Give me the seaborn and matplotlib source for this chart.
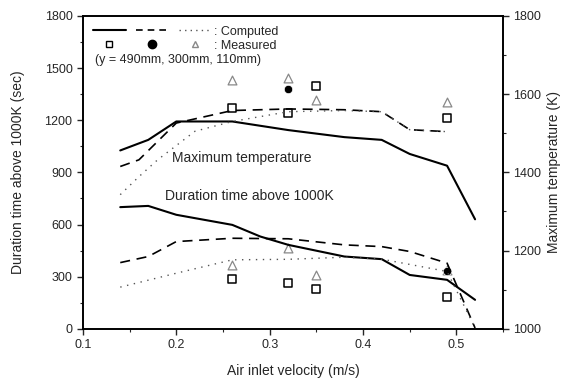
import pandas as pd
import seaborn as sns
import matplotlib.pyplot as plt
from matplotlib.lines import Line2D
from matplotlib.legend_handler import HandlerTuple
from matplotlib.ticker import MultipleLocator

sns.set_style("ticks")
plt.rcParams['font.family'] = ['Liberation Sans', 'DejaVu Sans']

# Maximum temperature (K), computed
temp_x_490 = [0.14, 0.17, 0.20, 0.26, 0.32, 0.38, 0.42, 0.45, 0.49, 0.52]
temp_490 = [1456, 1483, 1530, 1530, 1508, 1490, 1483, 1447, 1417, 1280]
temp_x_300 = [0.14, 0.16, 0.20, 0.26, 0.32, 0.38, 0.42, 0.45, 0.49]
temp_300 = [1415, 1432, 1526, 1558, 1562, 1560, 1555, 1509, 1504]
temp_x_110 = [0.14, 0.16, 0.18, 0.22, 0.26, 0.32, 0.38, 0.42, 0.45, 0.49]
temp_110 = [1343, 1389, 1432, 1505, 1530, 1555, 1558, 1555, 1509, 1504]

# Duration time above 1000K (sec), computed
dur_x_490 = [0.14, 0.17, 0.20, 0.26, 0.29, 0.32, 0.38, 0.42, 0.45, 0.49, 0.52]
dur_490 = [700, 707, 656, 598, 531, 483, 416, 401, 310, 282, 167]
dur_x_300 = [0.14, 0.17, 0.20, 0.26, 0.32, 0.38, 0.42, 0.45, 0.49, 0.52]
dur_300 = [381, 416, 502, 521, 518, 483, 473, 445, 378, 5]
dur_x_110 = [0.14, 0.20, 0.26, 0.32, 0.38, 0.42, 0.49, 0.52]
dur_110 = [240, 320, 397, 400, 412, 401, 330, 5]

# Measured
meas_x = [0.26, 0.32, 0.35, 0.49]
temp_sq = [1564, 1551, 1621, 1539]
temp_tri = [1636, 1640, 1585, 1581]
temp_circ_x = [0.32]
temp_circ = [1612]
dur_sq = [288, 263, 230, 182]
dur_tri = [368, 464, 311, 339]
dur_circ_x = [0.49]
dur_circ = [330]

fig = plt.figure(figsize=(5.64, 3.86), dpi=100)
ax = fig.add_axes([0.147, 0.148, 0.745, 0.811])
ax2 = ax.twinx()

# duration on left axis
sns.lineplot(x=dur_x_490, y=dur_490, ax=ax, color='black', lw=1.5)
sns.lineplot(x=dur_x_300, y=dur_300, ax=ax, color='black', lw=1.2, linestyle=(0, (6, 4)))
sns.lineplot(x=dur_x_110, y=dur_110, ax=ax, color='#555555', lw=1.0, linestyle=(0, (1, 4)))
sns.scatterplot(x=meas_x, y=dur_sq, ax=ax, marker='s', s=36, facecolor='white', edgecolor='black', linewidth=1.1)
sns.scatterplot(x=meas_x, y=dur_tri, ax=ax, marker='^', s=40, facecolor='white', edgecolor='#888888', linewidth=0.9)
sns.scatterplot(x=dur_circ_x, y=dur_circ, ax=ax, marker='o', s=36, color='black')

# temperature on right axis
sns.lineplot(x=temp_x_490, y=temp_490, ax=ax2, color='black', lw=1.5)
sns.lineplot(x=temp_x_300, y=temp_300, ax=ax2, color='black', lw=1.2, linestyle=(0, (6, 4)))
sns.lineplot(x=temp_x_110, y=temp_110, ax=ax2, color='#555555', lw=1.0, linestyle=(0, (1, 4)))
sns.scatterplot(x=meas_x, y=temp_sq, ax=ax2, marker='s', s=36, facecolor='white', edgecolor='black', linewidth=1.1)
sns.scatterplot(x=meas_x, y=temp_tri, ax=ax2, marker='^', s=40, facecolor='white', edgecolor='#888888', linewidth=0.9)
sns.scatterplot(x=temp_circ_x, y=temp_circ, ax=ax2, marker='o', s=36, color='black')

ax.set_xlim(0.1, 0.55)
ax.set_ylim(0, 1800)
ax2.set_ylim(1000, 1800)
ax.xaxis.set_major_locator(MultipleLocator(0.1))
ax.xaxis.set_minor_locator(MultipleLocator(0.05))
ax.yaxis.set_major_locator(MultipleLocator(300))
ax.yaxis.set_minor_locator(MultipleLocator(150))
ax2.yaxis.set_major_locator(MultipleLocator(200))
ax2.yaxis.set_minor_locator(MultipleLocator(100))
for a in (ax, ax2):
    a.tick_params(which='major', length=4, width=1, labelsize=9)
    a.tick_params(which='minor', length=2, width=0.8)
    for sp in a.spines.values():
        sp.set_visible(True)
        sp.set_linewidth(1.2)
        sp.set_color('black')

ax.set_xlabel('Air inlet velocity (m/s)', fontsize=10, labelpad=9)
ax.set_ylabel('Duration time above 1000K (sec)', fontsize=10, labelpad=14)
ax2.set_ylabel('Maximum temperature (K)', fontsize=10, labelpad=4)

ax.text(0.195, 980, 'Maximum temperature', fontsize=10, va='center')
ax.text(0.188, 765, 'Duration time above 1000K', fontsize=10, va='center')

computed = (Line2D([], [], color='black', lw=1.5),
            Line2D([], [], color='black', lw=1.2, linestyle=(0, (4, 3))),
            Line2D([], [], color='#555555', lw=1.0, linestyle=(0, (1, 3))))
measured = (Line2D([], [], marker='s', ls='', mfc='white', mec='black', ms=5),
            Line2D([], [], marker='o', ls='', color='black', ms=6),
            Line2D([], [], marker='^', ls='', mfc='white', mec='#888888', ms=5))
blank = Line2D([], [], ls='')
leg = ax.legend([computed, measured, blank],
                [': Computed', ': Measured', '(y = 490mm, 300mm, 110mm)'],
                handler_map={tuple: HandlerTuple(ndivide=None, pad=0.8)},
                loc='upper left', bbox_to_anchor=(0.0, 1.0), frameon=False,
                handlelength=9.5, handletextpad=0.2, labelspacing=0.15,
                fontsize=9, borderaxespad=0.4)
leg.get_texts()[2].set_position((-119, 0))

fig.savefig('out.png', dpi=100)
